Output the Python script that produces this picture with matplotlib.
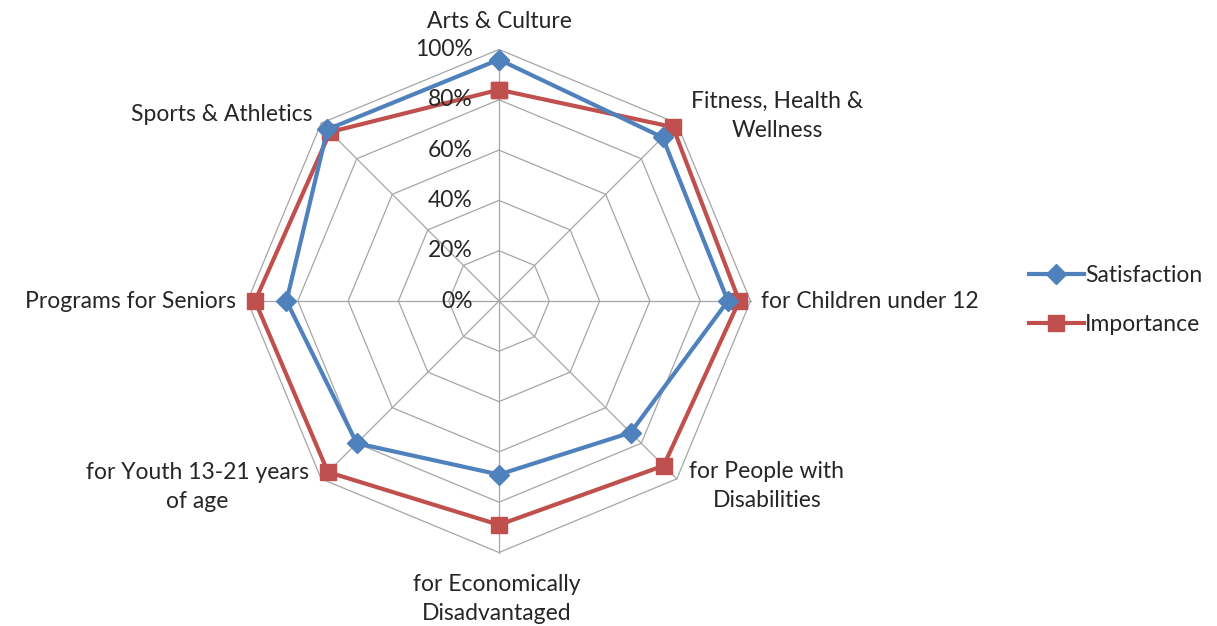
import matplotlib.pyplot as plt
import numpy as np
from matplotlib.lines import Line2D

plt.rcParams['font.family'] = ['Lato', 'DejaVu Sans']

# Kategorie programu (po směru hodinových ručiček od vrcholu)
kategorie = [
    'Arts & Culture',
    'Fitness, Health &\nWellness',
    'for Children under 12',
    'for People with\nDisabilities',
    'for Economically\nDisadvantaged',
    'for Youth 13-21 years\nof age',
    'Programs for Seniors',
    'Sports & Athletics',
]
spokojenost = [0.96, 0.92, 0.91, 0.74, 0.69, 0.80, 0.845, 0.965]
dulezitost = [0.84, 0.978, 0.955, 0.926, 0.89, 0.962, 0.97, 0.95]
urovne = [0.0, 0.2, 0.4, 0.6, 0.8, 1.0]
popisky_urovni = ['0%', '20%', '40%', '60%', '80%', '100%']

modra = '#4F81BD'
cervena = '#C0504D'
seda = '#A6A6A6'
pismo = 16.5

n = len(kategorie)
uhly = np.arange(n) * 2 * np.pi / n


def xy(r, uhel):
    return np.asarray(r) * np.sin(uhel), np.asarray(r) * np.cos(uhel)


fig = plt.figure(figsize=(12.17, 6.26), dpi=100)
R = 251.5  # pixely na 100 %
ax = fig.add_axes([(499 - 320) / 1217, (325 - 320) / 626, 640 / 1217, 640 / 626])
ax.set_xlim(-320 / R, 320 / R)
ax.set_ylim(-320 / R, 320 / R)
ax.axis('off')

# Osmiúhelníková mřížka a paprsky
uzavrene = np.append(uhly, uhly[0])
for u in urovne[1:]:
    gx, gy = xy(u, uzavrene)
    ax.plot(gx, gy, color=seda, lw=0.9, zorder=1)
for a in uhly:
    sx, sy = xy([0, 1], a)
    ax.plot(sx, sy, color=seda, lw=0.9, zorder=1)

# Datové řady
for hodnoty, barva, znacka, ms in [(dulezitost, cervena, 's', 12), (spokojenost, modra, 'D', 10)]:
    px, py = xy(np.append(hodnoty, hodnoty[0]), uzavrene)
    ax.plot(px, py, color=barva, lw=3, marker=znacka, ms=ms, zorder=3 if barva == modra else 2,
            solid_joinstyle='miter')

# Popisky úrovní
for u, t in zip(urovne, popisky_urovni):
    ax.text(-0.105, u, t, ha='right', va='center', fontsize=pismo, color='#262626')

# Popisky kategorií
pozice = [
    (0.0, 1.11, 'center', 'center'),
    (1.105, 0.735, 'center', 'center'),
    (1.04, 0.0, 'left', 'center'),
    (1.065, -0.735, 'center', 'center'),
    (-0.01, -1.185, 'center', 'center'),
    (-1.2, -0.74, 'center', 'center'),
    (-1.045, 0.0, 'right', 'center'),
    (-0.74, 0.74, 'right', 'center'),
]
for text, (tx, ty, ha, va) in zip(kategorie, pozice):
    ax.text(tx, ty, text, ha=ha, va=va, fontsize=pismo, color='#262626',
            linespacing=1.5, clip_on=False)

# Legenda
handles = [
    Line2D([], [], color=modra, lw=3, marker='D', ms=10),
    Line2D([], [], color=cervena, lw=3, marker='s', ms=12),
]
fig.legend(handles, ['Satisfaction', 'Importance'], loc='center left',
           bbox_to_anchor=(1008 / 1217, 326 / 626), frameon=False, fontsize=pismo,
           handlelength=2.4, handletextpad=0.05, labelspacing=1.2,
           labelcolor='#262626')

fig.savefig('out.png', dpi=100)
